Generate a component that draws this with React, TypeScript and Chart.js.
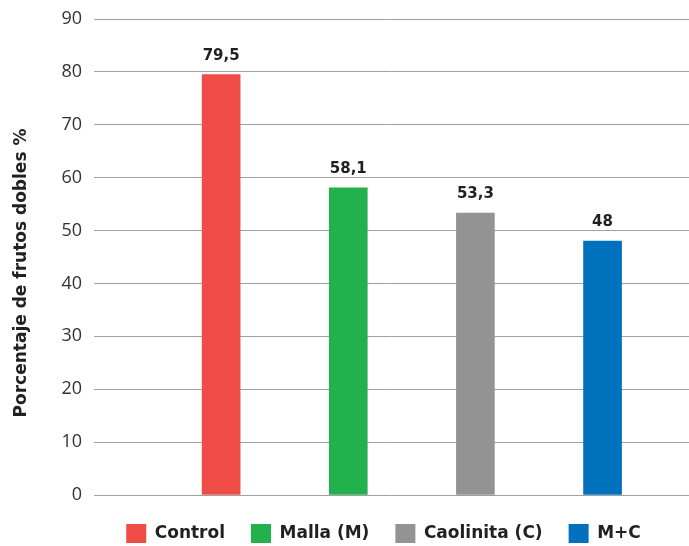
import React, { useEffect, useRef } from "react";
import { Chart, registerables } from "chart.js";

Chart.register(...registerables);

const categories = ["Control", "Malla (M)", "Caolinita (C)", "M+C"];
const values = [79.5, 58.1, 53.3, 48];
const valueLabels = ["79,5", "58,1", "53,3", "48"];
const positions = [1, 2, 3, 4];
const colors = ["#EF4B47", "#22B14C", "#939393", "#0071BC"];
const yTicks = [0, 10, 20, 30, 40, 50, 60, 70, 80, 90];
const yTitle = "Porcentaje de frutos dobles %";

const BOLD_FONT = "'DejaVu Sans', sans-serif";
const TICK_FONT = "'Open Sans', sans-serif";
const DARK = "#231f20";

export default function App() {
  const ref = useRef<HTMLCanvasElement | null>(null);

  useEffect(() => {
    if (!ref.current) return;

    const valueLabelPlugin = {
      id: "valueLabels",
      afterDatasetsDraw(chart: any) {
        const ctx = chart.ctx;
        ctx.save();
        ctx.font = `bold 15px ${BOLD_FONT}`;
        ctx.fillStyle = DARK;
        ctx.textAlign = "center";
        ctx.textBaseline = "alphabetic";
        chart.data.datasets.forEach((ds: any, i: number) => {
          const meta = chart.getDatasetMeta(i);
          const el = meta.data[0];
          if (!el) return;
          ctx.fillText(valueLabels[i], el.x, el.y - 15);
        });
        ctx.restore();
      },
    };

    const yTitlePlugin = {
      id: "yTitle",
      afterDraw(chart: any) {
        const ctx = chart.ctx;
        ctx.save();
        ctx.translate(22, 273);
        ctx.rotate(-Math.PI / 2);
        ctx.font = `bold 17px ${BOLD_FONT}`;
        ctx.fillStyle = DARK;
        ctx.textAlign = "center";
        ctx.textBaseline = "middle";
        ctx.fillText(yTitle, 0, 0);
        ctx.restore();
      },
    };

    const legendPlacementPlugin = {
      id: "legendPlacement",
      beforeInit(chart: any) {
        const legend = chart.legend;
        if (!legend) return;
        const origFit = legend.fit;
        legend.fit = function () {
          origFit.call(this);
          this.height = 51;
        };
      },
      afterLayout(chart: any) {
        const legend = chart.legend;
        if (!legend) return;
        legend.top += 3;
        legend.bottom += 3;
        legend.left -= 8;
        legend.right -= 8;
      },
    };

    const chart = new Chart(ref.current, {
      type: "bar",
      data: {
        datasets: categories.map((c, i) => ({
          label: c,
          data: [{ x: positions[i], y: values[i] }],
          backgroundColor: colors[i],
          borderWidth: 0,
          barThickness: 38,
          grouped: false,
        })),
      },
      options: {
        responsive: false,
        animation: false,
        layout: { padding: { top: 19, right: 0, left: 0, bottom: 0 } },
        plugins: {
          legend: {
            position: "bottom",
            fullSize: false,
            labels: {
              boxWidth: 20,
              boxHeight: 19,
              padding: 26,
              color: DARK,
              font: { family: BOLD_FONT, size: 17, weight: "bold" },
            },
          },
          tooltip: { enabled: false },
        },
        scales: {
          x: {
            type: "linear",
            min: 0,
            max: 4.68,
            offset: false,
            display: false,
          },
          y: {
            min: 0,
            max: 90,
            afterFit(scale: any) {
              scale.width = 94;
              scale.paddingTop = 0;
              scale.paddingBottom = 0;
            },
            afterBuildTicks(scale: any) {
              scale.ticks = yTicks.map((v) => ({ value: v }));
            },
            border: { display: false },
            grid: {
              color: "#a0a0a0",
              lineWidth: 1,
              drawTicks: false,
            },
            ticks: {
              padding: 12,
              color: "#333333",
              font: { family: TICK_FONT, size: 18 },
            },
          },
        },
      },
      plugins: [valueLabelPlugin, yTitlePlugin, legendPlacementPlugin],
    });

    return () => chart.destroy();
  }, []);

  return (
    <div style={{ position: "fixed", left: 0, top: 0, width: 689, height: 546, background: "#fff" }}>
      <canvas ref={ref} width={689} height={546} style={{ display: "block" }} />
    </div>
  );
}
